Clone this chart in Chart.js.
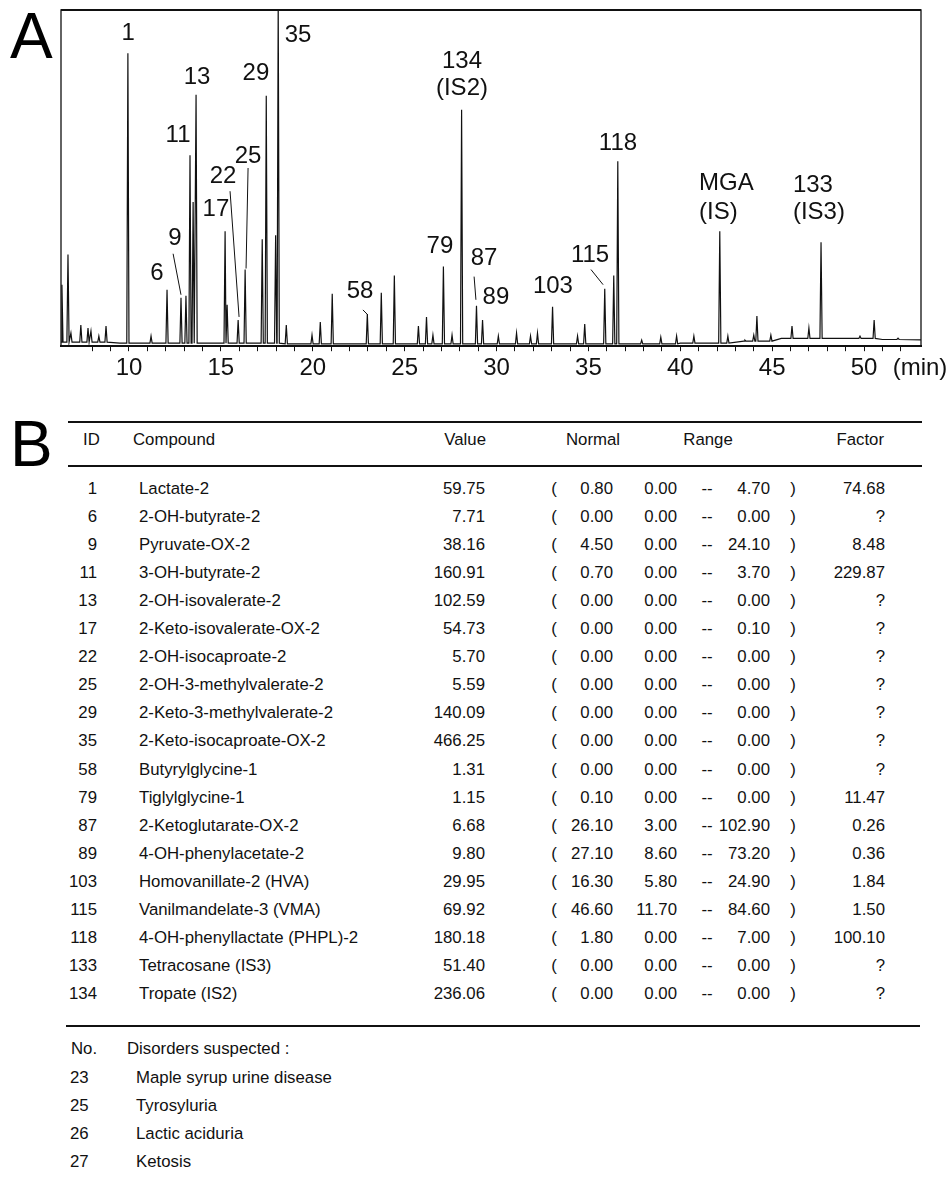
<!DOCTYPE html>
<html lang="en">
<head>
<meta charset="UTF-8">
<title>Chromatogram and organic acid report</title>
<script src="https://cdn.jsdelivr.net/npm/chart.js"></script>
<style>
  body { margin: 0; background: #fff; font-family: "Liberation Sans", Arial, sans-serif; color: #111; }
  #page { position: relative; width: 950px; height: 1177px; overflow: hidden; }
  #chrom { position: absolute; left: 0; top: 0; }
  .t { position: absolute; white-space: nowrap; height: 20px; line-height: 20px; font-size: 16.8px; }
  .rule { position: absolute; height: 0; border-top: 2px solid #111; }
  .big { position: absolute; font-size: 64px; line-height: 64px; color: #000; }
</style>
</head>
<body>
<div id="page">
  <canvas id="chrom" width="950" height="400"></canvas>
  <div class="big" style="left:10px;top:4px">A</div>
  <div class="big" style="left:10px;top:412px">B</div>
  <div id="report"></div>
</div>

<script>
// chromatogram peaks (retention time in min, apex height in % of full scale)
const peakTimes = [6.35, 6.68, 6.84, 7.38, 7.77, 7.93, 8.36, 8.75, 9.94, 11.2,
  12.07, 12.83, 13.1, 13.32, 13.49, 13.65, 15.23, 15.34, 15.94, 16.32,
  17.25, 17.47, 17.98, 18.12, 18.56, 19.96, 20.41, 21.06, 22.97, 23.73, 24.44,
  25.75, 26.19, 26.54, 27.11, 27.58, 28.1, 28.91, 29.24, 30.1, 31.09, 31.85, 32.23,
  33.05, 34.41, 34.8, 35.89, 36.38, 36.6, 37.9, 38.94, 39.8, 40.74,
  42.15, 42.59, 43.52, 44.0, 44.17, 44.93, 46.08, 47.0, 47.66, 49.78, 50.55, 51.85];
const peakHeights = [18.3, 27.3, 3.9, 6.3, 5.4, 4.5, 3.0, 6.0, 87.1, 3.0,
  16.8, 14.4, 15.0, 56.8, 42.9, 74.8, 34.2, 12.3, 7.8, 22.8,
  31.8, 74.5, 33.0, 103, 6.3, 3.3, 7.2, 15.6, 9.6, 15.9, 21.0,
  6.0, 8.7, 3.3, 23.7, 3.3, 70.3, 12.0, 7.8, 3.0, 3.9, 3.0, 3.9,
  11.7, 3.0, 6.6, 17.1, 21.0, 55.0, 1.8, 2.7, 3.0, 3.0,
  34.2, 3.0, 1.8, 3.3, 9.0, 3.3, 6.0, 5.4, 30.9, 3.0, 7.8, 2.4];
// baseline drift
const baseTimes = [6.3, 9.5, 18.5, 40, 43.5, 45.5, 51, 53.1];
const baseLevels = [1.2, 0.9, 0.7, 0.9, 1.5, 2.3, 2.0, 1.9];
const xTickStep = 1;
const xLabelStep = 5;

// report table
const compoundIds = ['1', '6', '9', '11', '13', '17', '22', '25', '29', '35', '58', '79', '87', '89', '103', '115', '118', '133', '134'];
const compoundNames = ['Lactate-2', '2-OH-butyrate-2', 'Pyruvate-OX-2', '3-OH-butyrate-2', '2-OH-isovalerate-2',
  '2-Keto-isovalerate-OX-2', '2-OH-isocaproate-2', '2-OH-3-methylvalerate-2', '2-Keto-3-methylvalerate-2',
  '2-Keto-isocaproate-OX-2', 'Butyrylglycine-1', 'Tiglylglycine-1', '2-Ketoglutarate-OX-2', '4-OH-phenylacetate-2',
  'Homovanillate-2 (HVA)', 'Vanilmandelate-3 (VMA)', '4-OH-phenyllactate (PHPL)-2', 'Tetracosane (IS3)', 'Tropate (IS2)'];
const measuredValues = [59.75, 7.71, 38.16, 160.91, 102.59, 54.73, 5.70, 5.59, 140.09, 466.25,
  1.31, 1.15, 6.68, 9.80, 29.95, 69.92, 180.18, 51.40, 236.06];
const normalValues = [0.80, 0.00, 4.50, 0.70, 0.00, 0.00, 0.00, 0.00, 0.00, 0.00,
  0.00, 0.10, 26.10, 27.10, 16.30, 46.60, 1.80, 0.00, 0.00];
const rangeLow = [0.00, 0.00, 0.00, 0.00, 0.00, 0.00, 0.00, 0.00, 0.00, 0.00,
  0.00, 0.00, 3.00, 8.60, 5.80, 11.70, 0.00, 0.00, 0.00];
const rangeHigh = [4.70, 0.00, 24.10, 3.70, 0.00, 0.10, 0.00, 0.00, 0.00, 0.00,
  0.00, 0.00, 102.90, 73.20, 24.90, 84.60, 7.00, 0.00, 0.00];
const factors = [74.68, null, 8.48, 229.87, null, null, null, null, null, null,
  null, 11.47, 0.26, 0.36, 1.84, 1.50, 100.10, null, null];
const disorderNos = ['23', '25', '26', '27'];
const disorderNames = ['Maple syrup urine disease', 'Tyrosyluria', 'Lactic aciduria', 'Ketosis'];

const FONT = '"Liberation Sans", Arial, sans-serif';

// peak labels and leader lines, in chart coordinates
const peakLabels = [
  { text: '1', t: 9.95, v: 93.1 }, { text: '35', t: 19.2, v: 92.5 },
  { text: '13', t: 13.7, v: 79.9 }, { text: '29', t: 16.91, v: 81.1 },
  { text: '134', t: 28.12, v: 84.7 }, { text: '(IS2)', t: 28.12, v: 76.6 },
  { text: '11', t: 12.67, v: 62.6 }, { text: '25', t: 16.48, v: 56.6 },
  { text: '22', t: 15.12, v: 50.6 }, { text: '17', t: 14.73, v: 40.7 },
  { text: '9', t: 12.5, v: 32.0 }, { text: '6', t: 11.52, v: 21.6 },
  { text: '58', t: 22.57, v: 16.2 }, { text: '79', t: 26.92, v: 29.6 },
  { text: '87', t: 29.32, v: 26.0 }, { text: '89', t: 29.97, v: 14.4 },
  { text: '103', t: 33.07, v: 17.7 }, { text: '115', t: 35.09, v: 26.9 },
  { text: '118', t: 36.61, v: 60.2 },
  { text: 'MGA', t: 41.02, v: 48.5, align: 'left' }, { text: '(IS)', t: 41.02, v: 39.8, align: 'left' },
  { text: '133', t: 46.13, v: 47.9, align: 'left' }, { text: '(IS3)', t: 46.13, v: 39.8, align: 'left' }
];
const leaders = [
  [12.4, 27.5, 12.83, 15.3], [15.5, 46.1, 15.99, 8.7], [16.48, 53.0, 16.37, 23.1],
  [22.73, 10.8, 23.0, 9.3], [28.78, 20.7, 28.88, 13.8], [35.14, 22.8, 35.8, 18.3]
];

const halfWidth = 0.06;

function baseAt(t) {
  let level = baseLevels[0];
  baseTimes.forEach((bt, i) => { if (t >= bt) level = baseLevels[i]; });
  return level;
}

const trace = baseTimes.map((t, i) => ({ x: t, y: baseLevels[i] }));
peakTimes.forEach((t, i) => {
  const b = baseAt(t);
  trace.push({ x: t - halfWidth, y: b }, { x: t, y: peakHeights[i] }, { x: t + halfWidth, y: b });
});
trace.sort((a, b) => a.x - b.x);

const framePlugin = {
  id: 'frame',
  afterDraw(chart) {
    const { ctx, chartArea: a, scales } = chart;
    ctx.save();
    ctx.strokeStyle = '#111';
    ctx.lineWidth = 1.3;
    ctx.beginPath();
    ctx.moveTo(a.left, a.bottom);
    ctx.lineTo(a.left, a.top);
    ctx.lineTo(a.right, a.top);
    ctx.lineTo(a.right, a.bottom);
    ctx.stroke();
    ctx.lineWidth = 2;
    ctx.beginPath();
    ctx.moveTo(a.left, a.top);
    ctx.lineTo(a.right, a.top);
    ctx.stroke();

    // peak numbers
    ctx.fillStyle = '#111';
    ctx.font = '24px ' + FONT;
    ctx.textBaseline = 'middle';
    peakLabels.forEach(l => {
      ctx.textAlign = l.align || 'center';
      ctx.fillText(l.text, scales.x.getPixelForValue(l.t), scales.y.getPixelForValue(l.v));
    });
    ctx.lineWidth = 1;
    leaders.forEach(([t1, v1, t2, v2]) => {
      ctx.beginPath();
      ctx.moveTo(scales.x.getPixelForValue(t1), scales.y.getPixelForValue(v1));
      ctx.lineTo(scales.x.getPixelForValue(t2), scales.y.getPixelForValue(v2));
      ctx.stroke();
    });

    ctx.textAlign = 'center';
    ctx.fillText('(min)', a.right - 1, a.bottom + 22);
    ctx.restore();
  }
};

new Chart(document.getElementById('chrom'), {
  type: 'line',
  data: {
    datasets: [{
      data: trace,
      borderColor: '#111',
      borderWidth: 1.2,
      pointRadius: 0,
      tension: 0
    }]
  },
  options: {
    responsive: false,
    animation: false,
    layout: { padding: { left: 61, right: 29, top: 10, bottom: 14 } },
    plugins: { legend: { display: false }, tooltip: { enabled: false } },
    scales: {
      x: {
        type: 'linear',
        min: 6.3,
        max: 53.1,
        border: { display: true, color: '#111', width: 2 },
        grid: {
          drawOnChartArea: false,
          tickLength: 5,
          tickWidth: 1,
          tickColor: ctx => (ctx.tick && Number.isInteger(ctx.tick.value)) ? '#111' : 'rgba(0,0,0,0)'
        },
        ticks: {
          stepSize: xTickStep,
          maxTicksLimit: 100,
          autoSkip: false,
          maxRotation: 0,
          padding: 3,
          color: '#111',
          font: { family: FONT, size: 24 },
          callback: v => (Number.isInteger(v) && v % xLabelStep === 0) ? String(v) : ''
        }
      },
      y: { display: false, min: 0, max: 100 }
    }
  },
  plugins: [framePlugin]
});

// report table
const report = document.getElementById('report');
function cell(text, x, y, align) {
  const d = document.createElement('div');
  d.className = 't';
  d.textContent = text;
  d.style.top = (y - 10) + 'px';
  if (align === 'right') { d.style.left = (x - 300) + 'px'; d.style.width = '300px'; d.style.textAlign = 'right'; }
  else if (align === 'center') { d.style.left = (x - 150) + 'px'; d.style.width = '300px'; d.style.textAlign = 'center'; }
  else d.style.left = x + 'px';
  report.appendChild(d);
}
function rule(x1, x2, y) {
  const d = document.createElement('div');
  d.className = 'rule';
  d.style.left = x1 + 'px';
  d.style.width = (x2 - x1) + 'px';
  d.style.top = (y - 1) + 'px';
  report.appendChild(d);
}

rule(68, 922, 422);
rule(68, 922, 466);
rule(66, 920, 1026);

const headY = 440;
cell('ID', 83, headY);
cell('Compound', 133, headY);
cell('Value', 486, headY, 'right');
cell('Normal', 593, headY, 'center');
cell('Range', 708, headY, 'center');
cell('Factor', 884, headY, 'right');

const fmt = v => v.toFixed(2);
compoundIds.forEach((id, i) => {
  const y = 489 + i * 28.05;
  cell(id, 97, y, 'right');
  cell(compoundNames[i], 139, y);
  cell(fmt(measuredValues[i]), 485, y, 'right');
  cell('(', 554, y, 'center');
  cell(fmt(normalValues[i]), 613, y, 'right');
  cell(fmt(rangeLow[i]), 677, y, 'right');
  cell('--', 707, y, 'center');
  cell(fmt(rangeHigh[i]), 770, y, 'right');
  cell(')', 793, y, 'center');
  cell(factors[i] === null ? '?' : fmt(factors[i]), 885, y, 'right');
});

cell('No.', 71, 1049);
cell('Disorders suspected :', 127, 1049);
disorderNos.forEach((no, i) => {
  const y = 1078 + i * 28;
  cell(no, 70, y);
  cell(disorderNames[i], 136, y);
});
</script>
</body>
</html>
